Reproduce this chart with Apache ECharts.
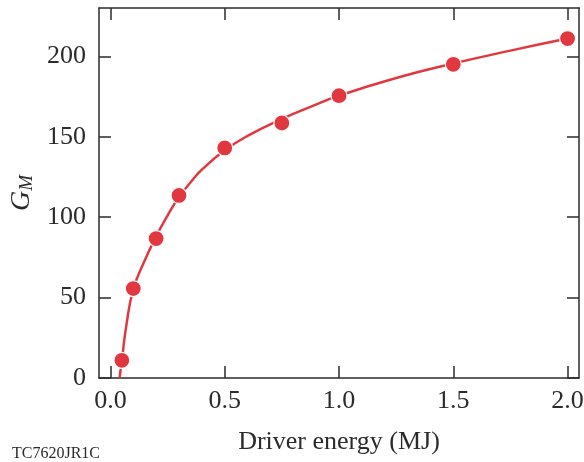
<!DOCTYPE html>
<html>
<head>
<meta charset="utf-8">
<script src="https://cdn.jsdelivr.net/npm/echarts@6/dist/echarts.min.js"></script>
<style>
  html, body { margin: 0; padding: 0; background: #fff; }
  #main { width: 584px; height: 462px; }
</style>
</head>
<body>
<div id="main"></div>
<script>
// measured points
var energy = [0.05, 0.1, 0.2, 0.3, 0.5, 0.75, 1.0, 1.5, 2.0];
var gain = [11, 55.6, 86.7, 113.5, 143, 158.5, 175.5, 195, 211];

// fitted curve
var curveEnergy = [0.04, 0.05, 0.07, 0.1, 0.15, 0.2, 0.25, 0.3, 0.35, 0.4, 0.5, 0.6, 0.75, 0.875, 1.0, 1.25, 1.5, 1.75, 2.0];
var curveGain = [0, 11, 33, 55, 73, 88, 101, 112.5, 121.5, 129.5, 141.5, 150.5, 161, 168.5, 175.5, 186.5, 195.5, 203.5, 211];

var xTicks = [0, 0.5, 1.0, 1.5, 2.0];
var yTicks = [0, 50, 100, 150, 200];

var red = '#e1383f';
var ink = '#2b2b2b';
var serif = '"Liberation Serif", "DejaVu Serif", serif';

function zip(xs, ys) {
  var out = [];
  for (var i = 0; i < xs.length; ++i) {
    out.push([xs[i], ys[i]]);
  }
  return out;
}

var chart = echarts.init(document.getElementById('main'));

var xBase = {
  type: 'value',
  min: -0.05,
  max: 2.05,
  axisLine: {onZero: false, lineStyle: {color: ink, width: 1.5}},
  axisTick: {inside: true, length: 12, customValues: xTicks, lineStyle: {color: ink, width: 1.5}},
  splitLine: {show: false}
};
var yBase = {
  type: 'value',
  min: 0,
  max: 230,
  axisLine: {onZero: false, lineStyle: {color: ink, width: 1.5}},
  axisTick: {inside: true, length: 12, customValues: yTicks, lineStyle: {color: ink, width: 1.5}},
  splitLine: {show: false}
};

chart.setOption({
  animation: false,
  backgroundColor: '#fff',
  grid: {left: 99, right: 5, top: 8, bottom: 84, containLabel: false, outerBoundsMode: 'none'},
  xAxis: [
    Object.assign({}, xBase, {
      position: 'bottom',
      name: 'Driver energy (MJ)',
      nameLocation: 'middle',
      nameGap: 51,
      nameTextStyle: {fontFamily: serif, fontSize: 26, color: ink},
      axisLabel: {
        customValues: xTicks,
        margin: 10,
        fontFamily: serif,
        fontSize: 26,
        color: ink,
        formatter: function(v) { return v.toFixed(1); }
      }
    }),
    Object.assign({}, xBase, {position: 'top', axisLabel: {show: false}})
  ],
  yAxis: [
    Object.assign({}, yBase, {
      position: 'left',
      name: '{g|G}{m|M}',
      nameLocation: 'middle',
      nameRotate: 90,
      nameGap: 63,
      nameTextStyle: {
        color: ink,
        rich: {
          g: {fontFamily: serif, fontStyle: 'italic', fontSize: 28, color: ink},
          m: {fontFamily: serif, fontStyle: 'italic', fontSize: 19, color: ink, padding: [10, 0, 0, 0]}
        }
      },
      axisLabel: {
        customValues: yTicks,
        margin: 13,
        fontFamily: serif,
        fontSize: 26,
        color: ink
      }
    }),
    Object.assign({}, yBase, {position: 'right', axisLabel: {show: false}})
  ],
  graphic: [{
    type: 'text',
    left: 12,
    top: 446,
    style: {text: 'TC7620JR1C', font: '16px ' + serif, fill: ink}
  }],
  series: [{
    type: 'line',
    data: zip(curveEnergy, curveGain),
    smooth: 0.5,
    showSymbol: false,
    lineStyle: {color: red, width: 2.5},
    z: 2
  }, {
    type: 'scatter',
    data: zip(energy, gain),
    symbolSize: 16,
    itemStyle: {color: red, borderColor: '#fff', borderWidth: 1.2, opacity: 1},
    z: 3
  }]
});
</script>
</body>
</html>
